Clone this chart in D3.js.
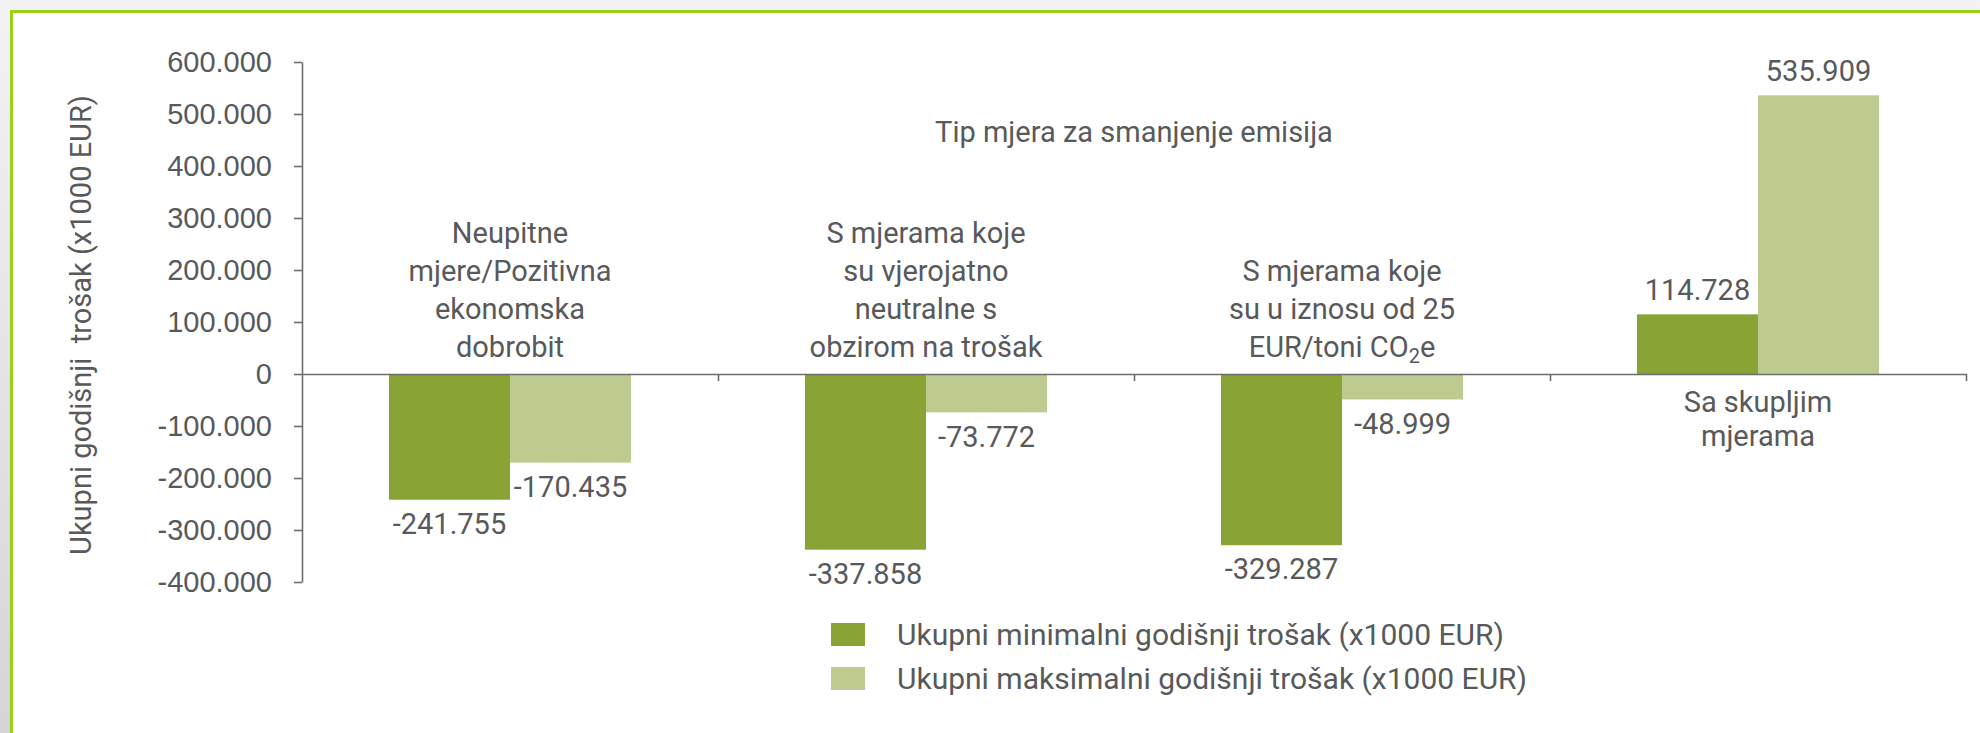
<!DOCTYPE html>
<html>
<head>
<meta charset="utf-8">
<script src="https://cdn.jsdelivr.net/npm/d3@7"></script>
<style>
  html, body { margin: 0; padding: 0; background: #f2f2f2; }
  svg { display: block; font-family: Roboto, "Noto Sans", sans-serif; }
  .axis text { font-size: 29px; fill: #58595b; }
  .axis path, .axis line { stroke: #6d6e70; stroke-width: 1.6; }
</style>
</head>
<body>
<div id="chart"></div>
<script>
// --- Data ---
const categoryLines = [
    ["Neupitne", "mjere/Pozitivna", "ekonomska", "dobrobit"],
    ["S mjerama koje", "su vjerojatno", "neutralne s", "obzirom na trošak"],
    ["S mjerama koje", "su u iznosu od 25", "EUR/toni CO₂e"],
    ["Sa skupljim", "mjerama"]
];
const minCost = [-241755, -337858, -329287, 114728];
const maxCost = [-170435, -73772, -48999, 535909];
const seriesNames = [
    "Ukupni minimalni godišnji trošak (x1000 EUR)",
    "Ukupni maksimalni godišnji trošak (x1000 EUR)"
];
const seriesColors = ["#89a334", "#bdcb8e"];
const yTicks = [-400000, -300000, -200000, -100000, 0, 100000, 200000, 300000, 400000, 500000, 600000];
const chartTitle = "Tip mjera za smanjenje emisija";
const yTitle = "Ukupni godišnji  trošak (x1000 EUR)";

// --- Setup ---
const W = 1980, H = 733;
const textColor = "#58595b";
const fmt = d3.formatLocale({ decimal: ",", thousands: ".", grouping: [3], currency: ["", " €"], minus: "-" }).format(",");

const svg = d3.select("#chart").append("svg")
    .attr("width", W)
    .attr("height", H);

const defs = svg.append("defs");
const grad = defs.append("linearGradient").attr("id", "bg").attr("x1", 0).attr("y1", 0).attr("x2", 0).attr("y2", 1);
grad.append("stop").attr("offset", "0%").attr("stop-color", "#f3f3f3");
grad.append("stop").attr("offset", "100%").attr("stop-color", "#d5d5d5");

svg.append("rect").attr("width", W).attr("height", H).attr("fill", "url(#bg)");
svg.append("rect")
    .attr("x", 11.5).attr("y", 11.5)
    .attr("width", W + 40).attr("height", H + 40)
    .attr("fill", "#fff")
    .attr("stroke", "#9dd012")
    .attr("stroke-width", 3);

const rows = categoryLines.map((c, i) => ({ i, values: [minCost[i], maxCost[i]] }));

const x0 = d3.scaleBand()
    .domain(rows.map(d => d.i))
    .range([302, 1966])
    .paddingInner(0.418)
    .paddingOuter(0.209);

const x1 = d3.scaleBand()
    .domain([0, 1])
    .range([0, x0.bandwidth()]);

const xEdge = d3.scaleLinear()
    .domain([0, categoryLines.length])
    .range(x0.range());

const y = d3.scaleLinear()
    .domain([-400000, 600000])
    .range([582, 62]);

// --- Axes ---
svg.append("g")
    .attr("class", "axis")
    .attr("transform", "translate(302,0)")
    .call(d3.axisLeft(y).tickValues(yTicks).tickSize(8).tickSizeOuter(0).tickPadding(22).tickFormat(fmt));

// --- Bars ---
const groups = svg.append("g")
    .selectAll("g")
    .data(rows)
    .enter()
    .append("g")
        .attr("transform", d => `translate(${x0(d.i)},0)`);

groups.selectAll("rect")
    .data(d => d.values.map((v, k) => ({ k, v })))
    .enter()
    .append("rect")
        .attr("x", d => x1(d.k))
        .attr("y", d => y(Math.max(0, d.v)))
        .attr("width", x1.bandwidth())
        .attr("height", d => Math.abs(y(d.v) - y(0)))
        .attr("fill", d => seriesColors[d.k]);

groups.selectAll("text.value")
    .data(d => d.values.map((v, k) => ({ k, v })))
    .enter()
    .append("text")
        .attr("class", "value")
        .attr("x", d => x1(d.k) + x1.bandwidth() / 2)
        .attr("y", d => d.v < 0 ? y(d.v) + 24 : y(d.v) - 24)
        .attr("dy", "0.35em")
        .attr("text-anchor", "middle")
        .attr("font-size", 29)
        .attr("fill", textColor)
        .text(d => fmt(d.v));

// x axis drawn on top of the bars
svg.append("g")
    .attr("class", "axis")
    .attr("transform", `translate(0,${y(0)})`)
    .call(d3.axisBottom(xEdge).tickValues(d3.range(1, categoryLines.length + 1)).tickSize(7).tickSizeOuter(0).tickFormat(""));

// --- Category labels (above the axis for negative groups, below for positive) ---
svg.append("g")
    .selectAll("text")
    .data(rows)
    .enter()
    .append("text")
        .attr("text-anchor", "middle")
        .attr("font-size", 29)
        .attr("fill", textColor)
        .each(function(d) {
            const lines = categoryLines[d.i];
            const cx = x0(d.i) + x0.bandwidth() / 2;
            const positive = d.values.every(v => v >= 0);
            const lh = positive ? 34 : 38;
            const firstY = positive ? y(0) + 38 : y(0) - 17 - (lines.length - 1) * lh;
            const t = d3.select(this);
            lines.forEach((line, j) => {
                const ly = firstY + j * lh;
                const parts = line.split("₂");
                t.append("tspan").attr("x", cx).attr("y", ly).text(parts[0]);
                if (parts.length > 1) {
                    t.append("tspan").attr("font-size", 20).attr("dy", 6).text("2");
                    t.append("tspan").attr("dy", -6).text(parts[1]);
                }
            });
        });

// --- Titles ---
svg.append("text")
    .attr("x", xEdge(2))
    .attr("y", 142)
    .attr("text-anchor", "middle")
    .attr("font-size", 29)
    .attr("fill", textColor)
    .text(chartTitle);

svg.append("text")
    .attr("transform", "translate(91,325) rotate(-90)")
    .attr("text-anchor", "middle")
    .attr("font-size", 29)
    .attr("fill", textColor)
    .style("white-space", "pre")
    .text(yTitle);

// --- Legend ---
const legend = svg.append("g")
    .selectAll("g")
    .data(seriesNames)
    .enter()
    .append("g")
        .attr("transform", (d, i) => `translate(831,${623 + i * 44})`);

legend.append("rect")
    .attr("width", 34)
    .attr("height", 23)
    .attr("fill", (d, i) => seriesColors[i]);

legend.append("text")
    .attr("x", 66)
    .attr("y", 11.5)
    .attr("dy", "0.35em")
    .attr("font-size", 30)
    .attr("fill", textColor)
    .text(d => d);
</script>
</body>
</html>
